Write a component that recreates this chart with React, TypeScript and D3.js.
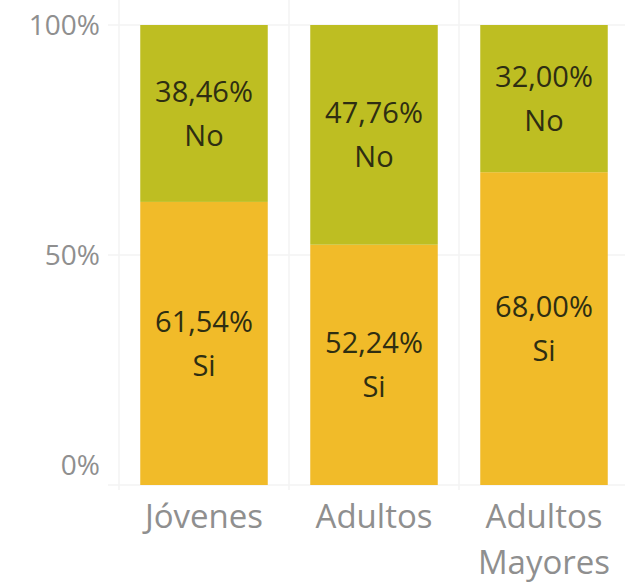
import * as d3 from "d3";

const categories = ["Jóvenes", "Adultos", "Adultos Mayores"];
const siValues = [61.54, 52.24, 68.0];
const noValues = [38.46, 47.76, 32.0];
const seriesKeys = ["Si", "No"];
const yTicks = [0, 50, 100];

const width = 625;
const height = 584;
const colors: Record<string, string> = { Si: "#f1bb29", No: "#bebe22" };

const locale = d3.formatLocale({
  decimal: ",",
  thousands: ".",
  grouping: [3],
  currency: ["", ""],
});
const fmt = locale.format(".2f");

export default function App() {
  const rows = categories.map((c, i) => ({ category: c, Si: siValues[i], No: noValues[i] }));
  const stack = d3.stack<any>().keys(seriesKeys)(rows);

  const x = d3
    .scaleBand<string>()
    .domain(categories)
    .range([119, 629])
    .paddingInner(0.25)
    .paddingOuter(0.125);
  const y = d3.scaleLinear().domain([0, 100]).range([485, 25]);

  const font = "'Open Sans', sans-serif";

  return (
    <div style={{ position: "absolute", left: 0, top: 0 }}>
      <svg width={width} height={height} viewBox={`0 0 ${width} ${height}`} style={{ display: "block" }}>
        <rect width={width} height={height} fill="#fff" />
        {/* grid */}
        <g stroke="#f3f3f3" strokeWidth={1.5}>
          {yTicks.map((t) => (
            <line key={t} x1={108} x2={625} y1={y(t)} y2={y(t)} />
          ))}
          {categories.map((c) => (
            <line key={c} x1={x(c)! - x.step() * 0.125} x2={x(c)! - x.step() * 0.125} y1={0} y2={490} />
          ))}
        </g>
        {/* y axis labels */}
        <g fontFamily={font} fontSize={28} fill="#8f8f8f" textAnchor="end">
          {yTicks.map((t) => (
            <text key={t} x={100} y={y(t)} dy={t === 0 ? "-0.35em" : "0.35em"}>
              {t}%
            </text>
          ))}
        </g>
        {/* bars */}
        {stack.map((s) => (
          <g key={s.key} fill={colors[s.key]}>
            {s.map((d) => (
              <rect
                key={d.data.category}
                x={x(d.data.category)}
                width={x.bandwidth()}
                y={y(d[1])}
                height={y(d[0]) - y(d[1])}
              />
            ))}
          </g>
        ))}
        {/* bar labels */}
        {stack.map((s) => (
          <g key={s.key + "-lbl"} fontFamily={font} fontSize={29} fill="#2e2e12" textAnchor="middle">
            {s.map((d) => {
              const cx = x(d.data.category)! + x.bandwidth() / 2;
              const cy = (y(d[0]) + y(d[1])) / 2;
              return (
                <g key={d.data.category}>
                  <text x={cx} y={cy - 22} dy="0.35em">
                    {fmt(d.data[s.key])}%
                  </text>
                  <text x={cx} y={cy + 22} dy="0.35em">
                    {s.key}
                  </text>
                </g>
              );
            })}
          </g>
        ))}
        {/* x axis labels */}
        <g fontFamily={font} fontSize={33} fill="#8f8f8f" textAnchor="middle">
          {categories.map((c) => {
            const lines = c === "Adultos Mayores" ? c.split(" ") : [c];
            const cx = x(c)! + x.bandwidth() / 2;
            return (
              <text key={c} x={cx} y={516}>
                {lines.map((l, i) => (
                  <tspan key={l} x={cx} dy={i === 0 ? "0.35em" : 46}>
                    {l}
                  </tspan>
                ))}
              </text>
            );
          })}
        </g>
      </svg>
    </div>
  );
}
